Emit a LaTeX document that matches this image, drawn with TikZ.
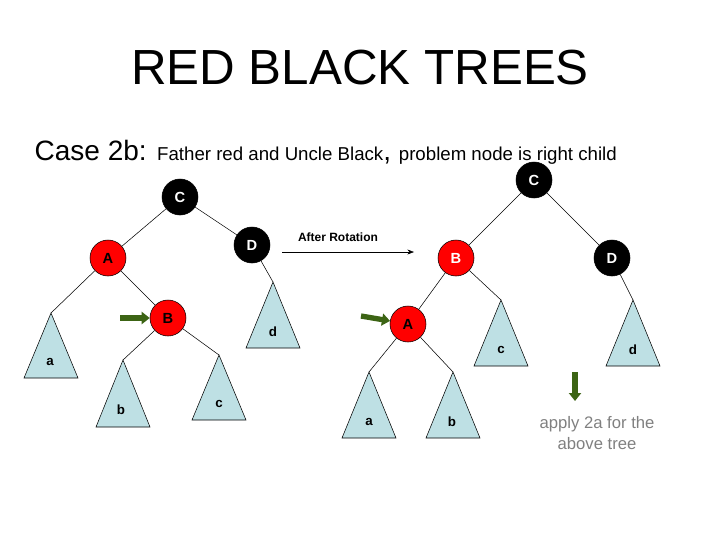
\documentclass[tikz,border=0pt]{standalone}
\usepackage{fontspec}
\setmainfont{Liberation Sans}
\usetikzlibrary{arrows.meta}
\definecolor{nodered}{RGB}{255, 0, 0}
\definecolor{subtree}{RGB}{190, 224, 228}
\definecolor{marker}{RGB}{60, 100, 20}

\begin{document}
\begin{tikzpicture}[
    x=0.75pt, y=-0.75pt,
    rb/.style={circle, draw, minimum size=27pt, inner sep=0pt, font=\bfseries\fontsize{11}{11}\selectfont, fill=#1},
    tri/.style={draw, fill=subtree},
    edge/.style={thin},
    pointer/.style={-{Triangle[length=6pt, width=9pt]}, line width=4pt, color=marker}
]
    \useasboundingbox (0,0) rectangle (720,540);
    \node at (360,68) {\fontsize{37}{40}\selectfont RED BLACK TREES};
    \node[anchor=west] at (30,152) {\fontsize{21}{24}\selectfont Case 2b: \fontsize{14}{16}\selectfont Father red and Uncle Black\fontsize{21}{24}\selectfont, \fontsize{14}{16}\selectfont problem node is right child};

    % before rotation
    \node[rb=black, text=white] (c1) at (180,197) {C};
    \node[rb=nodered] (a1) at (108,258) {A};
    \node[rb=black, text=white] (d1) at (252,245) {D};
    \node[rb=nodered] (b1) at (168,318) {B};
    \draw[tri] (51,313) coordinate (ta1) -- (78,378) -- (24,378) -- cycle;
    \draw[tri] (123,360) coordinate (tb1) -- (150,427) -- (96,427) -- cycle;
    \draw[tri] (219,355) coordinate (tc1) -- (246,420) -- (192,420) -- cycle;
    \draw[tri] (273,282) coordinate (td1) -- (300,348) -- (246,348) -- cycle;
    \node[font=\bfseries] at (50,362) {a};
    \node[font=\bfseries] at (121,410) {b};
    \node[font=\bfseries] at (219,404) {c};
    \node[font=\bfseries] at (273,332) {d};
    \draw[edge] (c1) -- (a1);
    \draw[edge] (c1) -- (d1);
    \draw[edge] (a1) -- (ta1);
    \draw[edge] (a1) -- (b1);
    \draw[edge] (b1) -- (tb1);
    \draw[edge] (b1) -- (tc1);
    \draw[edge] (d1) -- (td1);
    \coordinate (m1) at (120,318);
    \draw[pointer] (m1) -- (b1);

    % rotation
    \node[font=\bfseries\small] (rot) at (338,237) {After Rotation};
    \coordinate (rs) at (282,252);
    \coordinate (re) at (414,252);
    \draw[-{Stealth[length=5pt]}] (rs) -- (re);

    % after rotation
    \node[rb=black, text=white] (c2) at (534,180) {C};
    \node[rb=nodered, text=white] (b2) at (456,258) {B};
    \node[rb=black, text=white] (d2) at (612,258) {D};
    \node[rb=nodered] (a2) at (408,324) {A};
    \draw[tri] (369,372) coordinate (ta2) -- (396,438) -- (342,438) -- cycle;
    \draw[tri] (453,372) coordinate (tb2) -- (480,438) -- (426,438) -- cycle;
    \draw[tri] (501,300) coordinate (tc2) -- (528,366) -- (474,366) -- cycle;
    \draw[tri] (633,300) coordinate (td2) -- (660,366) -- (606,366) -- cycle;
    \node[font=\bfseries] at (369,422) {a};
    \node[font=\bfseries] at (452,422) {b};
    \node[font=\bfseries] at (501,350) {c};
    \node[font=\bfseries] at (633,350) {d};
    \draw[edge] (c2) -- (b2);
    \draw[edge] (c2) -- (d2);
    \draw[edge] (b2) -- (a2);
    \draw[edge] (b2) -- (tc2);
    \draw[edge] (a2) -- (ta2);
    \draw[edge] (a2) -- (tb2);
    \draw[edge] (d2) -- (td2);
    \coordinate (m2) at (361,316);
    \draw[pointer] (m2) -- (a2);
    \coordinate (m3) at (575,372);
    \coordinate (m4) at (575,401);
    \draw[pointer] (m3) -- (m4);
    \node[align=center, text=gray, font=\fontsize{12.5}{16}\selectfont] (note) at (597,433) {apply 2a for the\\above tree};
\end{tikzpicture}
\end{document}
